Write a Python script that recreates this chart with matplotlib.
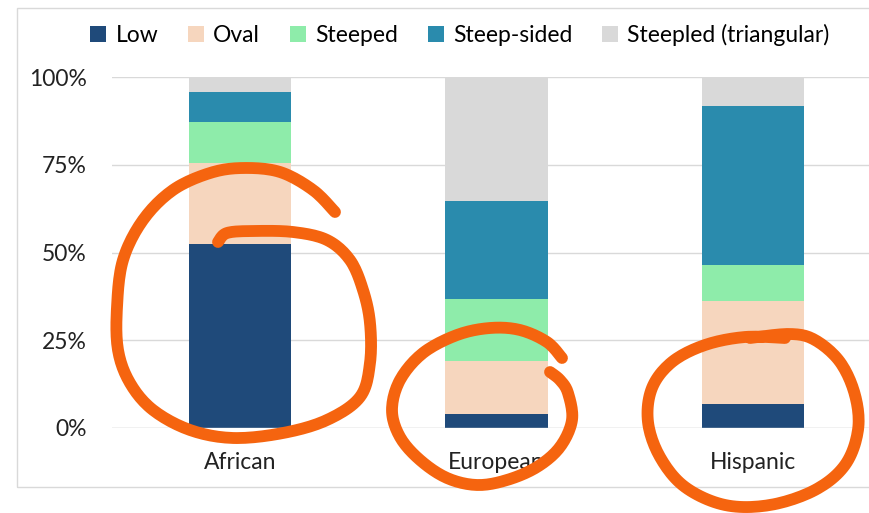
import numpy as np
import matplotlib.pyplot as plt
from matplotlib.patches import Rectangle
from matplotlib.lines import Line2D

plt.rcParams['font.family'] = ['Lato', 'DejaVu Sans']

# shares per group (percent of each bar)
groups = ['African', 'European', 'Hispanic']
shapes = ['Low', 'Oval', 'Steeped', 'Steep-sided', 'Steepled (triangular)']
low = [52.5, 4.0, 6.8]
oval = [23.0, 15.2, 29.3]
steeped = [11.6, 17.6, 10.2]
steep_sided = [8.6, 27.8, 45.3]
steepled = [4.3, 35.4, 8.4]
colors = ['#1f4a7a', '#f6d6be', '#8eecaa', '#2a8bad', '#d9d9d9']

# hand-drawn orange circles on top (pixel coords of the 869x513 image)
stroke_african = [(335, 212), (313, 190), (280, 172), (243, 168), (210, 173), (173, 190),
                  (143, 220), (123, 260), (117, 307), (118, 350), (130, 383), (153, 410),
                  (190, 430), (233, 438), (283, 433), (327, 420), (360, 397), (370, 363),
                  (370, 323), (363, 290), (350, 260), (327, 240), (293, 232), (253, 231),
                  (227, 233), (218, 242)]
stroke_european = [(562, 358), (547, 342), (520, 330), (490, 328), (457, 335), (423, 353),
                   (400, 380), (392, 410), (400, 437), (420, 460), (447, 478), (477, 485),
                   (507, 480), (537, 467), (560, 447), (572, 420), (568, 393), (560, 380),
                   (550, 372)]
stroke_hispanic = [(750, 338), (790, 334), (815, 340), (840, 362), (855, 395), (858, 430),
                   (845, 465), (815, 490), (770, 505), (725, 505), (685, 487), (660, 457),
                   (648, 422), (652, 388), (672, 362), (705, 345), (745, 337), (785, 338)]

W, H = 869, 513
fig = plt.figure(figsize=(W / 100, H / 100), dpi=100)
ax = fig.add_axes([112 / W, 85 / H, 769 / W, 351 / H])

data = np.array([low, oval, steeped, steep_sided, steepled]) / 100.0
x = np.arange(len(groups))
bottom = np.zeros(len(groups))
for name, vals, c in zip(shapes, data, colors):
    ax.bar(x, vals, 0.4, bottom=bottom, color=c, label=name, zorder=3)
    bottom += vals

ax.set_xlim(-0.5, 2.5)
ax.set_ylim(0, 1)
ax.set_yticks([0, 0.25, 0.5, 0.75, 1.0])
ax.set_yticklabels(['0%', '25%', '50%', '75%', '100%'])
ax.set_xticks(x)
ax.set_xticklabels(groups)
ax.tick_params(axis='both', length=0, labelsize=16.5, colors='#222222')
ax.tick_params(axis='y', pad=18)
ax.tick_params(axis='x', pad=17)
for s in ax.spines.values():
    s.set_visible(False)
ax.grid(axis='y', color='#d9d9d9', lw=1, zorder=0)
ax.set_axisbelow(True)
ax.axhline(0, color='#d9d9d9', lw=1, zorder=4)

# outer chart frame
fig.patches.append(Rectangle((17 / W, 1 - 487 / H), 900 / W, 479 / H, fill=False,
                             edgecolor='#d9d9d9', lw=1, transform=fig.transFigure))

handles, labels = ax.get_legend_handles_labels()
fig.legend(handles, labels, loc='center', bbox_to_anchor=(460 / W, 1 - 35 / H), ncol=5,
           frameon=False, fontsize=16.5, handlelength=0.7, handleheight=0.7,
           handletextpad=0.4, columnspacing=1.3)


def smooth(pts, n=12):
    p = np.array(pts, dtype=float)
    p = np.vstack([p[0], p, p[-1]])
    out = []
    for i in range(1, len(p) - 2):
        p0, p1, p2, p3 = p[i - 1], p[i], p[i + 1], p[i + 2]
        for t in np.linspace(0, 1, n, endpoint=False):
            out.append(0.5 * (2 * p1 + (-p0 + p2) * t + (2 * p0 - 5 * p1 + 4 * p2 - p3) * t ** 2
                              + (-p0 + 3 * p1 - 3 * p2 + p3) * t ** 3))
    out.append(p[-2])
    return np.array(out)


for stroke in [stroke_african, stroke_european, stroke_hispanic]:
    s = smooth(stroke)
    fig.lines.append(Line2D(s[:, 0] / W, 1 - s[:, 1] / H, color='#f5640f', lw=8.5,
                            solid_capstyle='round', solid_joinstyle='round',
                            transform=fig.transFigure, zorder=10))

fig.savefig('out.png', dpi=100)
